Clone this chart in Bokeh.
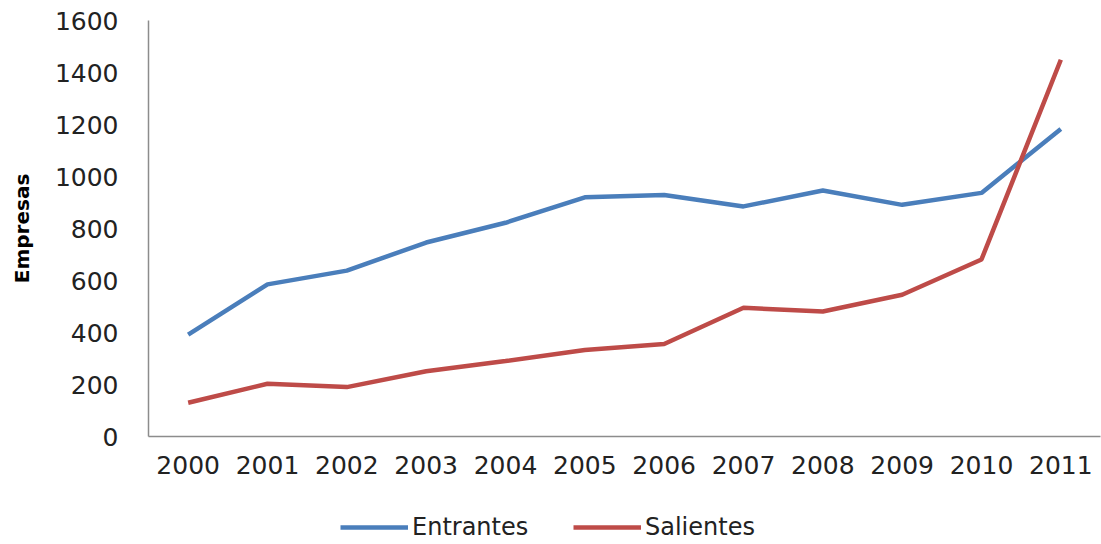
from bokeh.plotting import figure
from bokeh.layouts import column
from bokeh.models import Legend, LegendItem, FactorRange, Range1d, FixedTicker
from bokeh.embed import file_html
from bokeh.resources import INLINE

years = ["2000", "2001", "2002", "2003", "2004", "2005", "2006", "2007", "2008", "2009", "2010", "2011"]
entrantes = [392, 585, 638, 746, 822, 920, 929, 885, 946, 891, 937, 1183]
salientes = [130, 203, 190, 251, 290, 333, 356, 495, 481, 545, 681, 1449]
y_ticks = [0, 200, 400, 600, 800, 1000, 1200, 1400, 1600]

BLUE = "#4A7EBB"
RED = "#BE4B48"
FONT = "DejaVu Sans"

p = figure(width=1101, height=490, x_range=FactorRange(*years, range_padding=0),
           y_range=Range1d(0, 1600), output_backend="svg", toolbar_location=None,
           min_border_left=148, min_border_right=1, min_border_top=20, min_border_bottom=54)
p.outline_line_color = None
p.xgrid.grid_line_color = None
p.ygrid.grid_line_color = None

p.line(years, entrantes, line_color=BLUE, line_width=4.5)
p.line(years, salientes, line_color=RED, line_width=4.5)

for ax in (p.xaxis[0], p.yaxis[0]):
    ax.axis_line_color = "#8C8C8C"
    ax.axis_line_width = 1.5
    ax.major_tick_line_color = None
    ax.minor_tick_line_color = None
    ax.major_tick_out = 0
    ax.major_tick_in = 0
    ax.major_label_text_font = FONT
    ax.major_label_text_font_size = "25px"
    ax.major_label_text_color = "#222222"

p.yaxis.ticker = FixedTicker(ticks=y_ticks)
p.yaxis.major_label_standoff = 30
p.xaxis.major_label_standoff = 19
p.yaxis.axis_label = "Empresas"
p.yaxis.axis_label_text_font = FONT
p.yaxis.axis_label_text_font_style = "bold"
p.yaxis.axis_label_text_font_size = "20px"
p.yaxis.axis_label_text_color = "#000000"
p.yaxis.axis_label_standoff = 18

# legend strip below the chart
q = figure(width=1101, height=54, x_range=FactorRange(*years, range_padding=0),
           y_range=Range1d(5000, 6000), output_backend="svg", toolbar_location=None,
           x_axis_type=None, y_axis_type=None,
           min_border_left=148, min_border_right=1, min_border_top=0, min_border_bottom=0)
q.outline_line_color = None
q.xgrid.grid_line_color = None
q.ygrid.grid_line_color = None
l1 = q.line(years, entrantes, line_color=BLUE, line_width=4.5)
l2 = q.line(years, salientes, line_color=RED, line_width=4.5)

legend = Legend(items=[LegendItem(label="Entrantes", renderers=[l1]),
                       LegendItem(label="Salientes", renderers=[l2])],
                orientation="horizontal", location=(192, 3),
                label_text_font=FONT, label_text_font_size="24px",
                label_text_color="#222222", glyph_width=68, label_standoff=4,
                label_width=128, spacing=33, border_line_color=None,
                background_fill_alpha=0, padding=0, margin=0)
q.add_layout(legend, "center")

layout = column(p, q, spacing=0)
open("out.html", "w").write(file_html(layout, INLINE))
